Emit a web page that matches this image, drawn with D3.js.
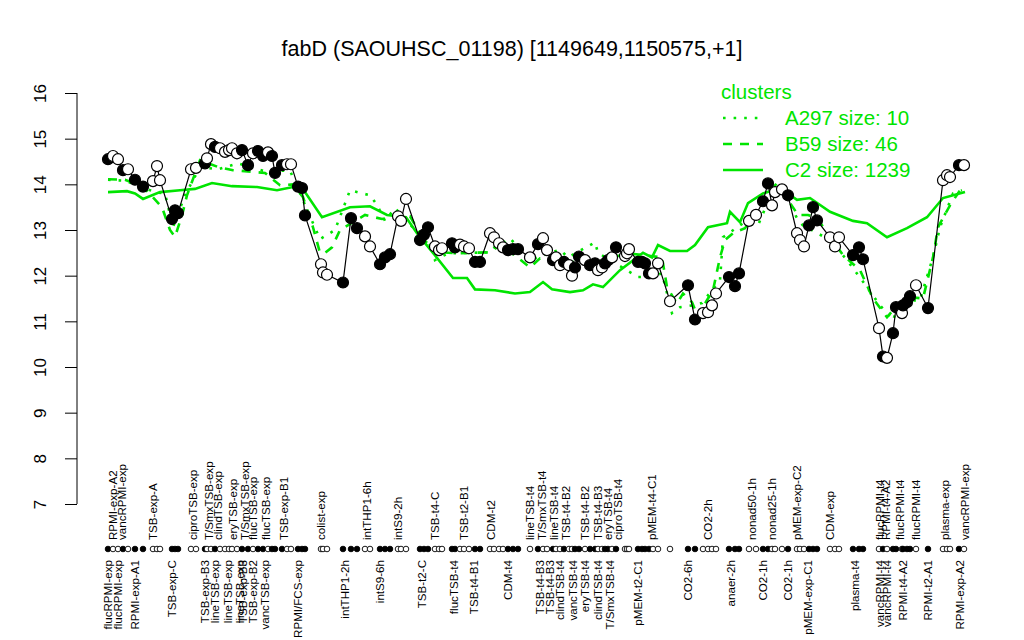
<!DOCTYPE html>
<html>
<head>
<meta charset="utf-8">
<script src="https://cdn.jsdelivr.net/npm/d3@7"></script>
<style>
  body { margin: 0; background: #fff; }
  svg { font-family: "Liberation Sans", Arial, sans-serif; }
</style>
</head>
<body>
<div id="chart"></div>
<script>
// condition positions along the ordering (index units), expression values, fill type
var pointPos = [1, 2, 3, 4, 5, 6.4, 8, 10, 10.8, 11.4, 13.8, 14.4, 15, 17.6, 18.6, 20.4, 20.8, 21.6, 22.4, 23.4,
  24.4, 25.2, 25.8, 26.8, 27.8, 29, 30, 31, 32, 33, 33.8, 34.4, 35.8, 36.8, 37.6, 39, 39.8, 40.4, 43.6, 44,
  44.8, 48, 49.6, 50.8, 52.4, 53.4, 55.4, 56.4, 57.4, 59, 59.6, 60.6, 63.4, 64.2, 65, 66.4, 67.2, 67.8, 69.8, 70.4,
  71.4, 72.2, 73.2, 74.4, 75.4, 77.4, 78.2, 79.2, 80, 81, 82, 83, 85.4, 87, 88, 88.8, 90, 90.6, 91.4, 92.2,
  93.2, 93.8, 94.4, 95.2, 96.4, 97.4, 98.4, 99, 99.8, 100.4, 101, 101.8, 102.6, 104.4, 104.8, 105.2, 107, 107.8, 108.4, 109.2,
  110, 111, 113.4, 117, 118.4, 120, 121, 121.8, 122.6, 125.2, 126.4, 127.2, 129.2, 130.6, 132, 133, 133.8, 134.4, 135.8, 137,
  138.8, 139.4, 140.2, 141.2, 142, 142.8, 145.4, 146.4, 147.2, 150, 151.2, 152, 155.2, 156, 156.8, 158, 158.6, 159.8, 160, 160.8,
  161.4, 162.6, 165, 168, 168.8, 169.4, 171.2, 172.2];
var pointVal = [14.55, 14.62, 14.55, 14.31, 14.33, 14.1, 13.95, 14.07, 14.4, 14.09, 13.24, 13.43, 13.37, 14.33, 14.36, 14.46, 14.57, 14.88, 14.82, 14.79,
  14.71, 14.75, 14.79, 14.68, 14.75, 14.42, 14.68, 14.73, 14.62, 14.7, 14.62, 14.25, 14.42, 14.44, 14.44, 13.95, 13.92, 13.32, 12.25, 12.07,
  12.02, 11.85, 13.26, 13.04, 12.86, 12.64, 12.25, 12.4, 12.47, 13.3, 13.2, 13.68, 12.78, 12.9, 13.06, 12.64, 12.56, 12.6, 12.71, 12.62,
  12.68, 12.64, 12.6, 12.3, 12.3, 12.93, 12.84, 12.71, 12.62, 12.56, 12.58, 12.58, 12.4, 12.69, 12.82, 12.56, 12.34, 12.4, 12.23, 12.3,
  12.23, 12.0, 12.18, 12.42, 12.34, 12.23, 12.27, 12.12, 12.18, 12.27, 12.34, 12.4, 12.62, 12.43, 12.49, 12.58, 12.3, 12.3, 12.27, 12.05,
  12.05, 12.27, 11.44, 11.79, 11.04, 11.18, 11.2, 11.35, 11.61, 11.97, 11.77, 12.05, 13.2, 13.33, 13.63, 14.02, 13.54, 13.83, 13.89, 13.76,
  12.93, 12.78, 12.64, 13.1, 13.5, 13.21, 12.84, 12.64, 12.84, 12.45, 12.62, 12.36, 10.85, 10.23, 10.2, 10.74, 11.31, 11.18, 11.35, 11.42,
  11.55, 11.79, 11.29, 14.09, 14.2, 14.16, 14.42, 14.42];
var pointFilled = [1, 0, 0, 1, 0, 1, 1, 0, 0, 0, 1, 1, 1, 0, 0, 1, 0, 0, 1, 0,
  0, 0, 0, 0, 1, 1, 0, 1, 1, 0, 1, 1, 1, 0, 0, 1, 1, 1, 0, 0,
  0, 1, 1, 1, 0, 0, 1, 1, 1, 0, 0, 0, 1, 1, 1, 0, 0, 0, 1, 1,
  0, 0, 0, 1, 1, 0, 0, 0, 0, 1, 1, 1, 0, 1, 0, 0, 1, 0, 0, 1,
  0, 0, 1, 1, 0, 1, 1, 0, 0, 1, 1, 0, 1, 0, 0, 0, 1, 1, 1, 1,
  0, 0, 0, 1, 1, 0, 0, 0, 0, 1, 1, 1, 0, 0, 1, 1, 0, 0, 0, 1,
  0, 0, 0, 1, 1, 1, 0, 0, 0, 1, 1, 1, 0, 1, 0, 1, 1, 0, 1, 1,
  1, 0, 1, 0, 0, 0, 1, 0];

// condition labels above and below the rug
var topLabels = ["RPMI-exp-A2", "vancRPMI-exp", "TSB-exp-A", "ciproTSB-exp", "T/SmxTSB-exp", "clindTSB-exp", "eryTSB-exp",
  "T/SmxTSB-exp", "flucTSB-exp", "flucTSB-exp", "TSB-exp-B1", "colist-exp", "intTHP1-6h", "intS9-2h", "TSB-t4-C", "TSB-t2-B1",
  "CDM-t2", "lineTSB-t4", "T/SmxTSB-t4", "lineTSB-t4", "TSB-t4-B2", "TSB-t4-B2", "TSB-t4-B3", "eryTSB-t4", "ciproTSB-t4",
  "pMEM-t4-C1", "CO2-2h", "nonad50-1h", "nonad25-1h", "pMEM-exp-C2", "CDM-exp", "flucRPMI-t4", "RPMI-t4-A2", "flucRPMI-t4",
  "flucRPMI-t4", "plasma-exp", "vancRPMI-exp"];
var topLabelPos = [2, 3.8, 10, 18, 21.2, 23, 26, 28.4, 30, 32.6, 36.2, 43.6, 52.8, 59, 66.4, 72.2,
  77.6, 85.4, 87.8, 90.2, 92.6, 96.4, 99, 101, 103, 109.8, 121, 129.8, 133.8, 138.8, 145.4, 155.4, 156.6, 159.4,
  162.6, 168.4, 172.4];
var bottomLabels = ["flucRPMI-exp", "flucRPMI-exp", "RPMI-exp-A1", "TSB-exp-C", "TSB-exp-B3", "lineTSB-exp", "lineTSB-exp",
  "lineTSB-exp", "TSB-exp-B3", "TSB-exp-B2", "vancTSB-exp", "RPMI/FCS-exp", "intTHP1-2h", "intS9-6h", "TSB-t2-C", "flucTSB-t4",
  "TSB-t4-B1", "CDM-t4", "TSB-t4-B3", "TSB-t4-B3", "clindTSB-t4", "vancTSB-t4", "eryTSB-t4", "clindTSB-t4", "T/SmxTSB-t4",
  "pMEM-t2-C1", "CO2-6h", "anaer-2h", "CO2-1h", "CO2-1h", "pMEM-exp-C1", "plasma-t4", "vancRPMI-t4", "vancRPMI-t4",
  "RPMI-t4-A2", "RPMI-t2-A1", "RPMI-exp-A2"];
var bottomLabelPos = [1, 3, 6.4, 13.8, 20.4, 22.4, 25, 27.4, 28, 30, 32.4, 39, 48.4, 55.4, 63.8, 70.2,
  74.2, 81, 87.4, 89.4, 91.4, 94, 96.4, 99, 101.4, 107, 117, 125.6, 132, 137, 141, 150.4, 155.4, 156.8,
  160, 165, 171.4];

// cluster mean profiles
var a297Pos = [1, 4.4, 10.4, 12.4, 14, 16.4, 19.4, 23, 27, 32, 37.4, 40, 43.4, 46.4, 49.4, 53.4, 54.8, 56.4, 58.4, 65.8,
  66.4, 69, 77.4, 81.4, 85.4, 91.4, 93, 98.4, 99, 107, 109.4, 111.8, 113.8, 115.4, 118, 119.8, 121.8, 123.4, 124, 128,
  131, 133.8, 136, 139, 140, 145.4, 148.8, 152.8, 155.4, 158, 159.4, 163.4, 165, 166, 167.4, 170, 171.8];
var a297Val = [14.1, 14.08, 13.83, 13.8, 13.06, 13.76, 14.38, 14.33, 14.46, 14.3, 14.3, 13.65, 12.8, 13.0, 13.87, 13.76, 13.55, 13.2, 13.48, 12.6,
  12.34, 12.49, 12.51, 12.82, 12.34, 12.57, 12.4, 12.73, 12.5, 11.97, 11.97, 12.05, 11.18, 11.31, 11.35, 11.4, 11.68, 11.9, 12.84, 13.15,
  13.1, 13.83, 13.9, 13.21, 13.1, 12.78, 12.34, 11.75, 11.35, 11.02, 11.46, 11.46, 12.05, 12.4, 13.06, 13.8, 13.87];
var b59Pos = [1, 4.4, 8, 11.8, 13.4, 14.4, 15.8, 16.8, 19.4, 23, 26, 32.4, 35.4, 38, 40, 42, 43.4, 44.4, 45.8, 47.4,
  52.4, 55.8, 57.8, 61.4, 63.4, 65.4, 68, 70.8, 76.8, 79.4, 85.4, 87.4, 93, 99, 104.8, 108, 111.8, 112.8, 114.8, 116,
  117.8, 119, 120.4, 122, 123.4, 124.4, 126, 128.4, 130, 132, 132.8, 134.8, 139, 141, 142.8, 144.8, 148, 151.4, 154, 156.8,
  158.8, 161.4, 164, 166, 167, 169.4, 171.4];
var b59Val = [14.11, 14.1, 13.95, 13.5, 13.0, 12.85, 13.32, 13.76, 14.53, 14.38, 14.31, 14.25, 13.98, 14.0, 13.72, 13.06, 12.5, 12.5, 12.62, 13.0,
  13.33, 13.24, 13.28, 13.3, 12.93, 12.67, 12.51, 12.49, 12.51, 12.7, 12.18, 12.38, 12.3, 12.3, 12.49, 12.45, 12.4, 11.75, 11.39, 11.61,
  11.42, 11.09, 11.39, 11.68, 12.4, 12.78, 12.93, 13.04, 13.28, 13.65, 13.8, 14.02, 13.33, 13.33, 13.26, 12.95, 12.45, 12.12, 11.5, 11.09,
  11.35, 11.53, 11.5, 12.4, 13.06, 13.54, 13.87];
var c2Pos = [1, 4.8, 6.4, 8, 11.4, 15.4, 18.4, 21.8, 25.8, 30.8, 34.8, 38, 40.4, 43.8, 49.4, 53.4, 56.8, 60.6, 62.8, 66,
  70, 72.8, 74.4, 78.4, 82.4, 85.4, 88, 89.8, 93.4, 96, 98, 100, 103.4, 108, 109.8, 111, 113.4, 116.8, 118.4, 121,
  124.8, 125.4, 127.4, 129, 132, 135.4, 138.8, 141.4, 145.4, 150, 152.8, 156.8, 160.8, 164.8, 168, 172.4];
var c2Val = [13.83, 13.85, 13.8, 13.68, 13.83, 13.87, 13.9, 14.03, 13.96, 13.94, 13.87, 13.94, 13.83, 13.28, 13.5, 13.52, 13.33, 13.28, 12.93, 12.5,
  11.95, 11.95, 11.7, 11.68, 11.61, 11.64, 11.86, 11.7, 11.64, 11.68, 11.81, 11.75, 12.12, 12.5, 12.4, 12.67, 12.54, 12.54, 12.67, 13.06,
  13.15, 13.4, 13.17, 13.59, 13.8, 13.92, 13.66, 13.7, 13.4, 13.2, 13.15, 12.84, 13.04, 13.28, 13.7, 13.83];

var clusterNames = ["A297 size: 10", "B59 size: 46", "C2 size: 1239"];
var yTicks = [7, 8, 9, 10, 11, 12, 13, 14, 15, 16];

var width = 1024, height = 640;
var green = "#00e400";

var svg = d3.select("#chart").append("svg")
  .attr("width", width)
  .attr("height", height);

var x = d3.scaleLinear().domain([1, 172.2]).range([108, 964]);
var y = d3.scaleLinear().domain([7, 16]).range([504, 93]);

// title
svg.append("text")
  .attr("x", 512).attr("y", 56)
  .attr("text-anchor", "middle")
  .style("font-size", "21.5px")
  .text("fabD (SAOUHSC_01198) [1149649,1150575,+1]");

// y axis
var yAxis = svg.append("g")
  .attr("transform", "translate(77,0)")
  .call(d3.axisLeft(y).tickValues(yTicks).tickSize(12).tickFormat(d3.format("d")));
yAxis.select(".domain").attr("stroke", "#000").attr("d", "M0," + y(7) + "V" + y(16));
yAxis.selectAll(".tick line").attr("stroke", "#000");
yAxis.selectAll(".tick text")
  .attr("transform", "translate(-37,0) rotate(-90)")
  .attr("x", 0).attr("dy", "0.35em")
  .attr("text-anchor", "middle")
  .style("font-size", "17px")
  .style("font-family", "Liberation Sans, Arial, sans-serif");

// cluster lines
function clusterLine(pos, val) {
  return d3.line()
    .x(function(d, i) { return x(pos[i]); })
    .y(function(d) { return y(d); })(val);
}
svg.append("path").attr("d", clusterLine(c2Pos, c2Val))
  .attr("fill", "none").attr("stroke", green).attr("stroke-width", 2.6);
svg.append("path").attr("d", clusterLine(b59Pos, b59Val))
  .attr("fill", "none").attr("stroke", green).attr("stroke-width", 2.6)
  .attr("stroke-dasharray", "9,8");
svg.append("path").attr("d", clusterLine(a297Pos, a297Val))
  .attr("fill", "none").attr("stroke", green).attr("stroke-width", 2.6)
  .attr("stroke-dasharray", "2.6,8");

// gene profile
var line = d3.line()
  .x(function(d, i) { return x(pointPos[i]); })
  .y(function(d) { return y(d); });
svg.append("path").attr("d", line(pointVal))
  .attr("fill", "none").attr("stroke", "#000").attr("stroke-width", 1.2);

svg.selectAll("circle.pt")
  .data(pointVal)
  .enter().append("circle")
  .attr("class", "pt")
  .attr("cx", function(d, i) { return x(pointPos[i]); })
  .attr("cy", function(d) { return y(d); })
  .attr("r", 5.5)
  .attr("fill", function(d, i) { return pointFilled[i] ? "#000" : "#fff"; })
  .attr("stroke", "#000").attr("stroke-width", 1.2);

// rug
svg.selectAll("circle.rug")
  .data(pointPos)
  .enter().append("circle")
  .attr("class", "rug")
  .attr("cx", function(d) { return x(d); })
  .attr("cy", 549)
  .attr("r", 2.8)
  .attr("fill", function(d, i) { return pointFilled[i] ? "#000" : "#fff"; })
  .attr("stroke", "#000").attr("stroke-width", 0.9);

// condition labels
svg.selectAll("text.top")
  .data(topLabels)
  .enter().append("text")
  .attr("class", "top")
  .attr("transform", function(d, i) { return "translate(" + x(topLabelPos[i]) + ",540) rotate(-90)"; })
  .attr("dy", "0.35em")
  .attr("text-anchor", "start")
  .style("font-size", "11.6px")
  .text(function(d) { return d; });
svg.selectAll("text.bottom")
  .data(bottomLabels)
  .enter().append("text")
  .attr("class", "bottom")
  .attr("transform", function(d, i) { return "translate(" + x(bottomLabelPos[i]) + ",560) rotate(-90)"; })
  .attr("dy", "0.35em")
  .attr("text-anchor", "end")
  .style("font-size", "11.6px")
  .text(function(d) { return d; });

// legend
var legend = svg.append("g").attr("transform", "translate(721,0)");
legend.append("text").attr("x", 0).attr("y", 99)
  .attr("fill", green).style("font-size", "20.5px").text("clusters");
var dashes = ["2.6,8", "9,8", null];
clusterNames.forEach(function(name, i) {
  var yy = 118 + i * 26;
  var l = legend.append("line")
    .attr("x1", 2).attr("x2", 42).attr("y1", yy).attr("y2", yy)
    .attr("stroke", green).attr("stroke-width", 2.6);
  if (dashes[i]) l.attr("stroke-dasharray", dashes[i]);
  legend.append("text").attr("x", 64).attr("y", yy + 7)
    .attr("fill", green).style("font-size", "20.5px").text(name);
});
</script>
</body>
</html>
